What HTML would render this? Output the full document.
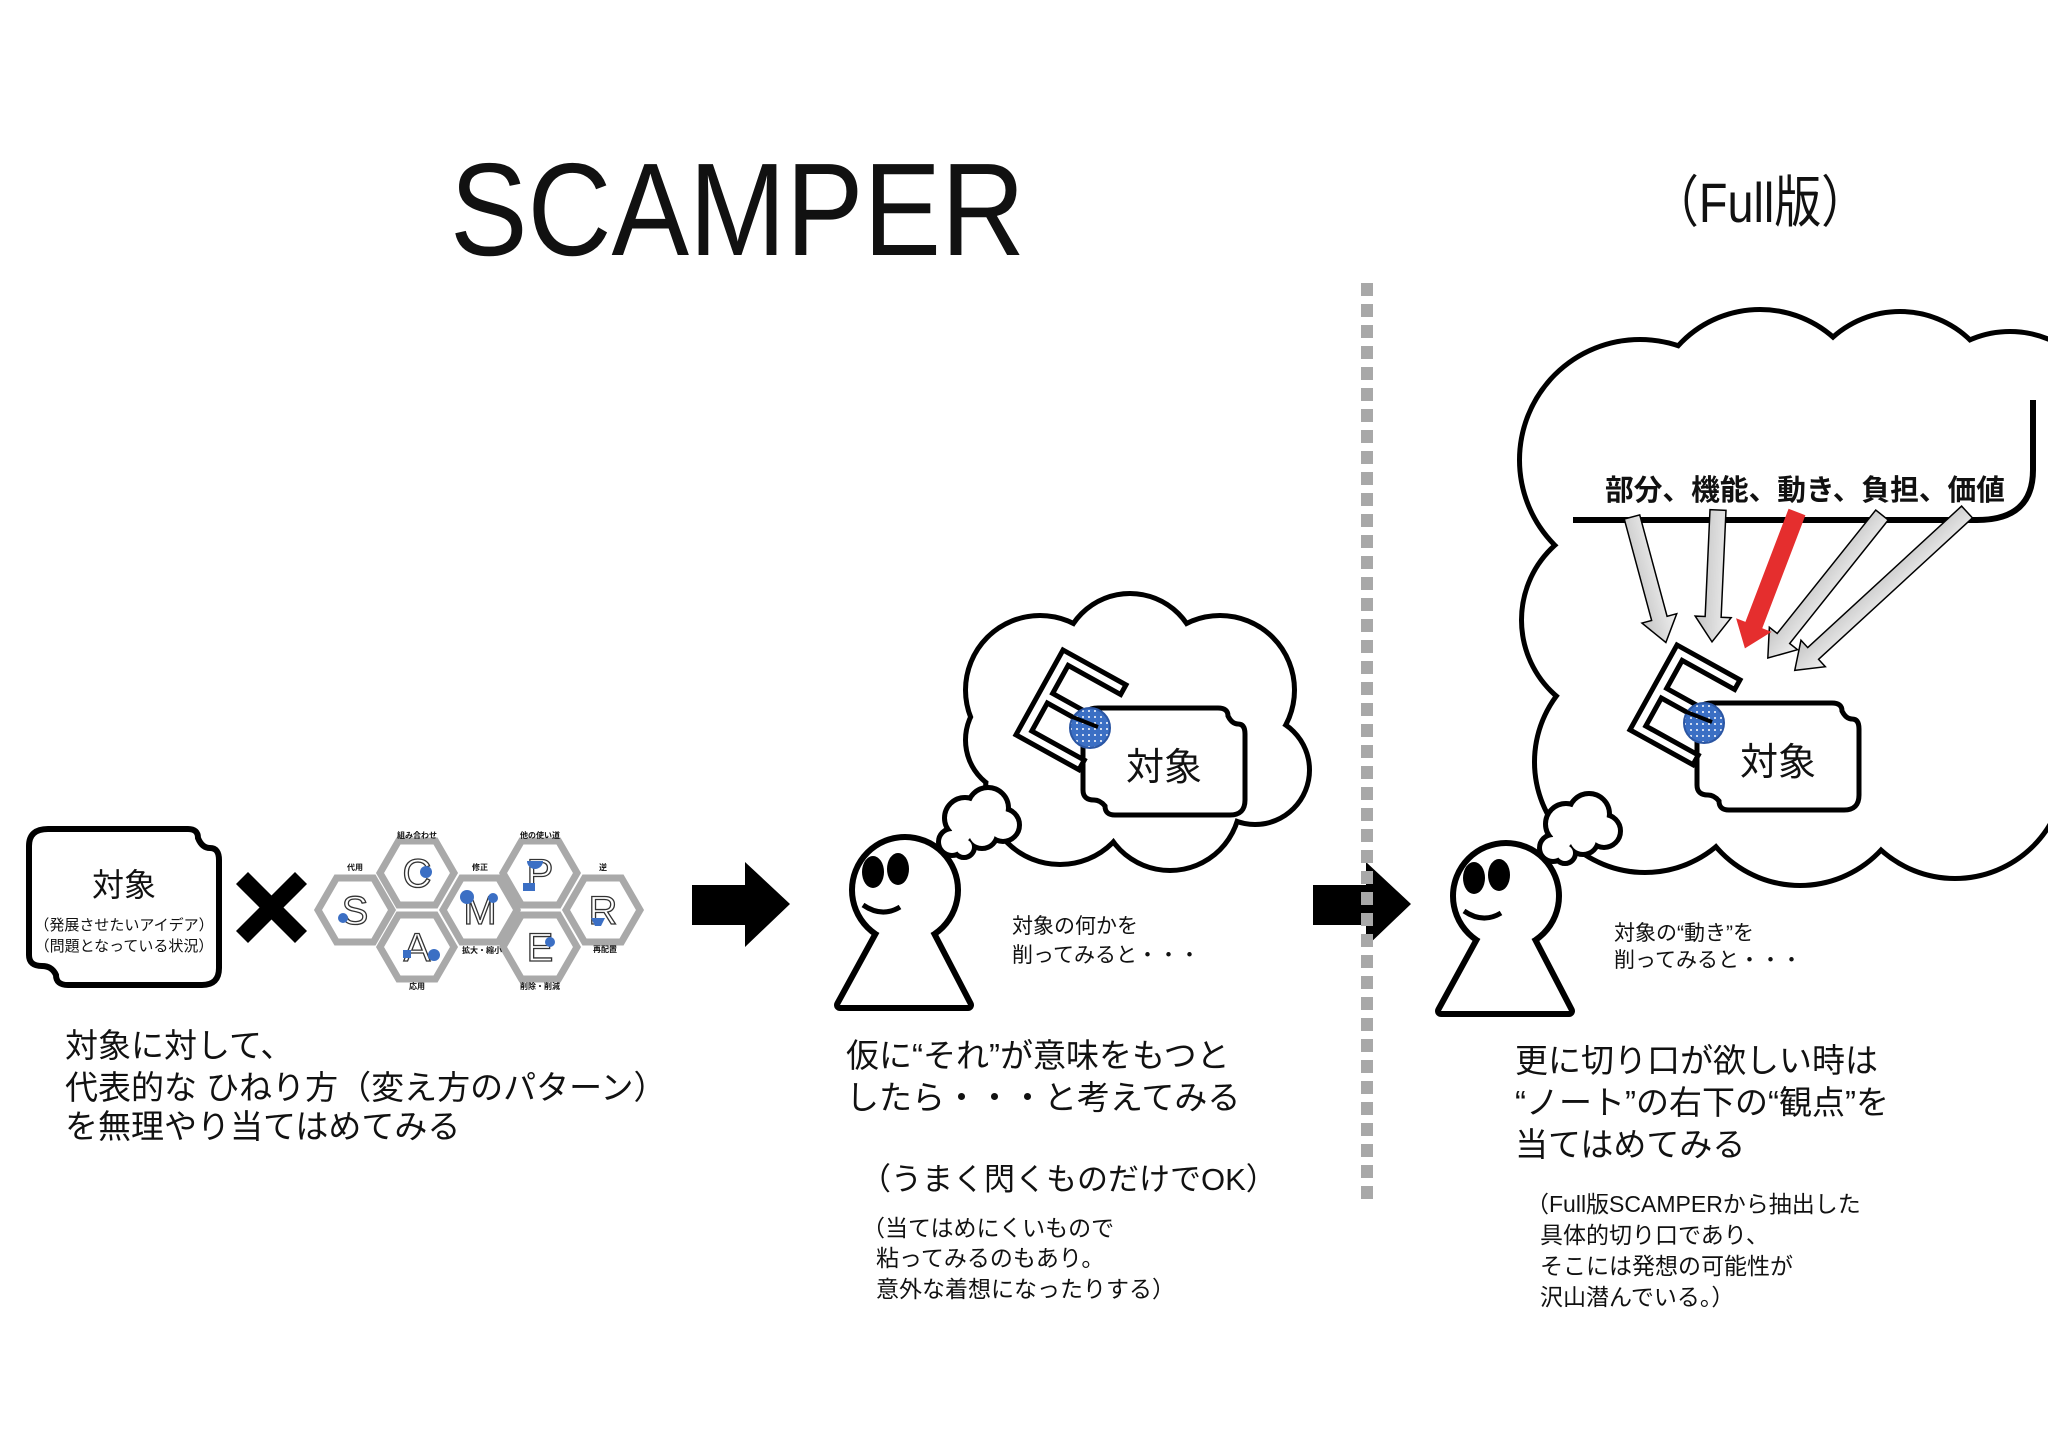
<!DOCTYPE html>
<html><head><meta charset="utf-8"><style>
html,body{margin:0;padding:0;background:#fff;}
svg{display:block;}
text{font-family:"Liberation Sans","Noto Sans CJK JP",sans-serif;fill:#111;}
</style></head><body>
<svg width="2048" height="1448" viewBox="0 0 2048 1448" xmlns="http://www.w3.org/2000/svg">
<defs>
<pattern id="dots" width="6" height="6" patternUnits="userSpaceOnUse"><rect width="6" height="6" fill="#3b6fc4"/><circle cx="3" cy="3" r="1" fill="#fff"/></pattern>
<linearGradient id="gg" x1="0" y1="0" x2="0" y2="1"><stop offset="0" stop-color="#f0f0f0"/><stop offset="1" stop-color="#c4c4c4"/></linearGradient>
<g id="person">
 <g stroke="#000" stroke-width="12" fill="#000" stroke-linejoin="round">
  <polygon points="881,930 929,930 968,1005 840,1005"/>
  <circle cx="905" cy="890" r="50"/>
 </g>
 <g fill="#fff">
  <polygon points="881,930 929,930 968,1005 840,1005"/>
  <circle cx="905" cy="890" r="50"/>
 </g>
 <ellipse cx="873" cy="872" rx="11" ry="16" fill="#000"/>
 <ellipse cx="898" cy="869" rx="11" ry="16" fill="#000"/>
 <path d="M863,905 Q882,918 900,907" stroke="#000" stroke-width="5" fill="none"/>
 <g stroke="#000" stroke-width="10" fill="#000">
  <circle cx="965" cy="818" r="18"/><circle cx="988" cy="808" r="18"/><circle cx="1003" cy="825" r="14"/><circle cx="982" cy="833" r="13"/>
  <circle cx="952" cy="842" r="11"/><circle cx="962" cy="832" r="10"/><circle cx="964" cy="847" r="8"/>
 </g>
 <g fill="#fff">
  <circle cx="965" cy="818" r="18"/><circle cx="988" cy="808" r="18"/><circle cx="1003" cy="825" r="14"/><circle cx="982" cy="833" r="13"/>
  <circle cx="952" cy="842" r="11"/><circle cx="962" cy="832" r="10"/><circle cx="964" cy="847" r="8"/>
 </g>
</g>
<g id="obj">
 <path d="M1098,708 H1218 Q1228,708 1228,716 Q1232,724 1238,724 Q1245,724 1245,734 V800 Q1245,815 1230,815 H1115 Q1105,815 1105,806 Q1100,800 1094,800 Q1083,800 1083,790 V722 Q1083,708 1098,708 Z" fill="#fff" stroke="#000" stroke-width="5"/>
 <text x="1164" y="780" font-size="38" text-anchor="middle">対象</text>
 <g transform="translate(1063,650) rotate(29)">
  <polygon points="0,0 72,0 72,11 12,11 12,43 62,43 62,54 12,54 12,86 72,86 72,97 0,97" fill="#fff" stroke="#000" stroke-width="5" stroke-linejoin="miter"/>
 </g>
 <circle cx="1090" cy="728" r="20" fill="url(#dots)" stroke="#2b56a3" stroke-width="2"/>
 <line x1="1070" y1="716" x2="1098" y2="727" stroke="#000" stroke-width="4"/>
</g>
</defs>

<text x="450" y="255" font-size="132" textLength="575" lengthAdjust="spacingAndGlyphs">SCAMPER</text>
<text x="1652" y="222" font-size="56" textLength="216" lengthAdjust="spacingAndGlyphs">（Full版）</text>

<path d="M48,829 H188 Q198,829 198,838 Q202,848 210,848 Q219,848 219,860 V968 Q219,985 202,985 H68 Q56,985 56,975 Q52,966 42,966 Q29,966 29,955 V846 Q29,829 48,829 Z" fill="#fff" stroke="#000" stroke-width="6"/>
<text x="124" y="896" font-size="32" text-anchor="middle">対象</text>
<text x="124" y="930" font-size="15" text-anchor="middle">（発展させたいアイデア）</text>
<text x="124" y="951" font-size="15" text-anchor="middle">（問題となっている状況）</text>

<g stroke="#000" stroke-width="17"><line x1="242" y1="878" x2="301" y2="937"/><line x1="301" y1="878" x2="242" y2="937"/></g>

<g stroke="#a9a9a9" stroke-width="7" fill="#fff">
 <polygon points="318,910 336.5,878 373.5,878 392,910 373.5,942 336.5,942"/>
 <polygon points="380,873 398.5,841 435.5,841 454,873 435.5,905 398.5,905"/>
 <polygon points="380,947 398.5,915 435.5,915 454,947 435.5,979 398.5,979"/>
 <polygon points="443,910 461.5,878 498.5,878 517,910 498.5,942 461.5,942"/>
 <polygon points="503,873 521.5,841 558.5,841 577,873 558.5,905 521.5,905"/>
 <polygon points="503,947 521.5,915 558.5,915 577,947 558.5,979 521.5,979"/>
 <polygon points="566,910 584.5,878 621.5,878 640,910 621.5,942 584.5,942"/>
</g>
<g font-size="40" text-anchor="middle" style="fill:#fff;stroke:#333;stroke-width:1.3">
 <text x="355" y="924" style="fill:#fff">S</text><text x="417" y="887" style="fill:#fff">C</text><text x="417" y="961" style="fill:#fff">A</text>
 <text x="480" y="924" style="fill:#fff">M</text><text x="540" y="887" style="fill:#fff">P</text><text x="540" y="961" style="fill:#fff">E</text><text x="603" y="924" style="fill:#fff">R</text>
</g>
<g fill="#3b6fc4">
 <circle cx="343" cy="918" r="5"/><circle cx="426" cy="872" r="6"/><rect x="403" y="950" width="8" height="8"/><circle cx="434" cy="955" r="6"/>
 <circle cx="467" cy="897" r="7"/><circle cx="493" cy="898" r="5"/><rect x="523" y="883" width="12" height="8"/><path d="M527,861 h16 a8,8 0 0 1 -16,0z"/>
 <circle cx="550" cy="942" r="5"/><path d="M591,918 h14 l-4,8 h-6z"/>
</g>
<g font-size="8" font-weight="bold" text-anchor="middle">
 <text x="355" y="870">代用</text><text x="417" y="838">組み合わせ</text><text x="417" y="989">応用</text>
 <text x="480" y="870">修正</text><text x="482" y="953">拡大・縮小</text><text x="540" y="838">他の使い道</text>
 <text x="540" y="989">削除・削減</text><text x="603" y="870">逆</text><text x="605" y="952">再配置</text>
</g>

<polygon points="692,885 745,885 745,862 790,904 745,947 745,925 692,925" fill="#000"/>
<polygon points="1313,885 1366,885 1366,862 1411,904 1366,947 1366,925 1313,925" fill="#000"/>

<line x1="1367" y1="283" x2="1367" y2="1202" stroke="#a8a8a8" stroke-width="12" stroke-dasharray="13,8"/>

<g font-size="33">
 <text x="65" y="1057">対象に対して、</text>
 <text x="65" y="1099">代表的な ひねり方（変え方のパターン）</text>
 <text x="65" y="1138">を無理やり当てはめてみる</text>
</g>

<g stroke="#000" stroke-width="10" fill="#000">
 <circle cx="1040" cy="690" r="72"/><circle cx="1130" cy="662" r="66"/><circle cx="1220" cy="690" r="72"/><circle cx="1255" cy="770" r="52"/><circle cx="1170" cy="800" r="68"/><circle cx="1060" cy="790" r="72"/><circle cx="1020" cy="740" r="52"/>
</g>
<g fill="#fff">
 <circle cx="1040" cy="690" r="72"/><circle cx="1130" cy="662" r="66"/><circle cx="1220" cy="690" r="72"/><circle cx="1255" cy="770" r="52"/><circle cx="1170" cy="800" r="68"/><circle cx="1060" cy="790" r="72"/><circle cx="1020" cy="740" r="52"/><circle cx="1140" cy="740" r="90"/>
</g>
<use href="#obj"/>
<use href="#person"/>
<g font-size="21">
 <text x="1012" y="933">対象の何かを</text>
 <text x="1012" y="962">削ってみると・・・</text>
</g>
<g font-size="33">
 <text x="846" y="1067">仮に“それ”が意味をもつと</text>
 <text x="846" y="1109">したら・・・と考えてみる</text>
</g>
<text x="860" y="1190" font-size="31">（うまく閃くものだけでOK）</text>
<g font-size="23">
 <text x="862" y="1236">（当てはめにくいもので</text>
 <text x="876" y="1266">粘ってみるのもあり。</text>
 <text x="876" y="1297">意外な着想になったりする）</text>
</g>

<g stroke="#000" stroke-width="10" fill="#000">
 <circle cx="1640" cy="460" r="118"/><circle cx="1760" cy="420" r="108"/><circle cx="1900" cy="412" r="98"/><circle cx="2010" cy="432" r="98"/>
 <circle cx="1622" cy="620" r="98"/><circle cx="1645" cy="762" r="108"/><circle cx="1800" cy="775" r="108"/><circle cx="1955" cy="768" r="108"/><circle cx="2050" cy="640" r="120"/>
</g>
<g fill="#fff">
 <circle cx="1640" cy="460" r="118"/><circle cx="1760" cy="420" r="108"/><circle cx="1900" cy="412" r="98"/><circle cx="2010" cy="432" r="98"/>
 <circle cx="1622" cy="620" r="98"/><circle cx="1645" cy="762" r="108"/><circle cx="1800" cy="775" r="108"/><circle cx="1955" cy="768" r="108"/><circle cx="2050" cy="640" r="120"/>
 <circle cx="1830" cy="600" r="160"/><circle cx="1970" cy="520" r="80"/><circle cx="2040" cy="540" r="60"/>
</g>
<path d="M1573,520 H1977 Q2033,520 2033,470 V400" fill="none" stroke="#000" stroke-width="6"/>
<text x="1605" y="500" font-size="29" font-weight="bold" textLength="400" lengthAdjust="spacingAndGlyphs">部分、機能、動き、負担、価値</text>
<g transform="translate(614,-5)"><use href="#obj"/></g>
<g stroke="#000" stroke-width="1.5" fill="url(#gg)">
 <g transform="translate(1632,517) rotate(74.9)"><polygon points="0,-8 105,-8 105,-18 130,0 105,18 105,8 0,8"/></g>
 <g transform="translate(1718,510) rotate(92.6)"><polygon points="0,-8 107,-8 107,-18 132,0 107,18 107,8 0,8"/></g>
 <g transform="translate(1882,515) rotate(128.6)"><polygon points="0,-8 158,-8 158,-18 183,0 158,18 158,8 0,8"/></g>
 <g transform="translate(1967,512) rotate(137.4)"><polygon points="0,-8 209,-8 209,-18 234,0 209,18 209,8 0,8"/></g>
</g>
<g transform="translate(1797,512) rotate(110.9)"><polygon points="0,-9 121,-9 121,-19 146,0 121,19 121,9 0,9" fill="#e52e2e"/></g>
<g transform="translate(601,6)"><use href="#person"/></g>
<g font-size="21">
 <text x="1614" y="940">対象の“動き”を</text>
 <text x="1614" y="967">削ってみると・・・</text>
</g>
<g font-size="33">
 <text x="1515" y="1072">更に切り口が欲しい時は</text>
 <text x="1515" y="1114">“ノート”の右下の“観点”を</text>
 <text x="1515" y="1156">当てはめてみる</text>
</g>
<g font-size="23">
 <text x="1526" y="1212">（Full版SCAMPERから抽出した</text>
 <text x="1540" y="1243">具体的切り口であり、</text>
 <text x="1540" y="1274">そこには発想の可能性が</text>
 <text x="1540" y="1305">沢山潜んでいる。）</text>
</g>
</svg>
</body></html>
